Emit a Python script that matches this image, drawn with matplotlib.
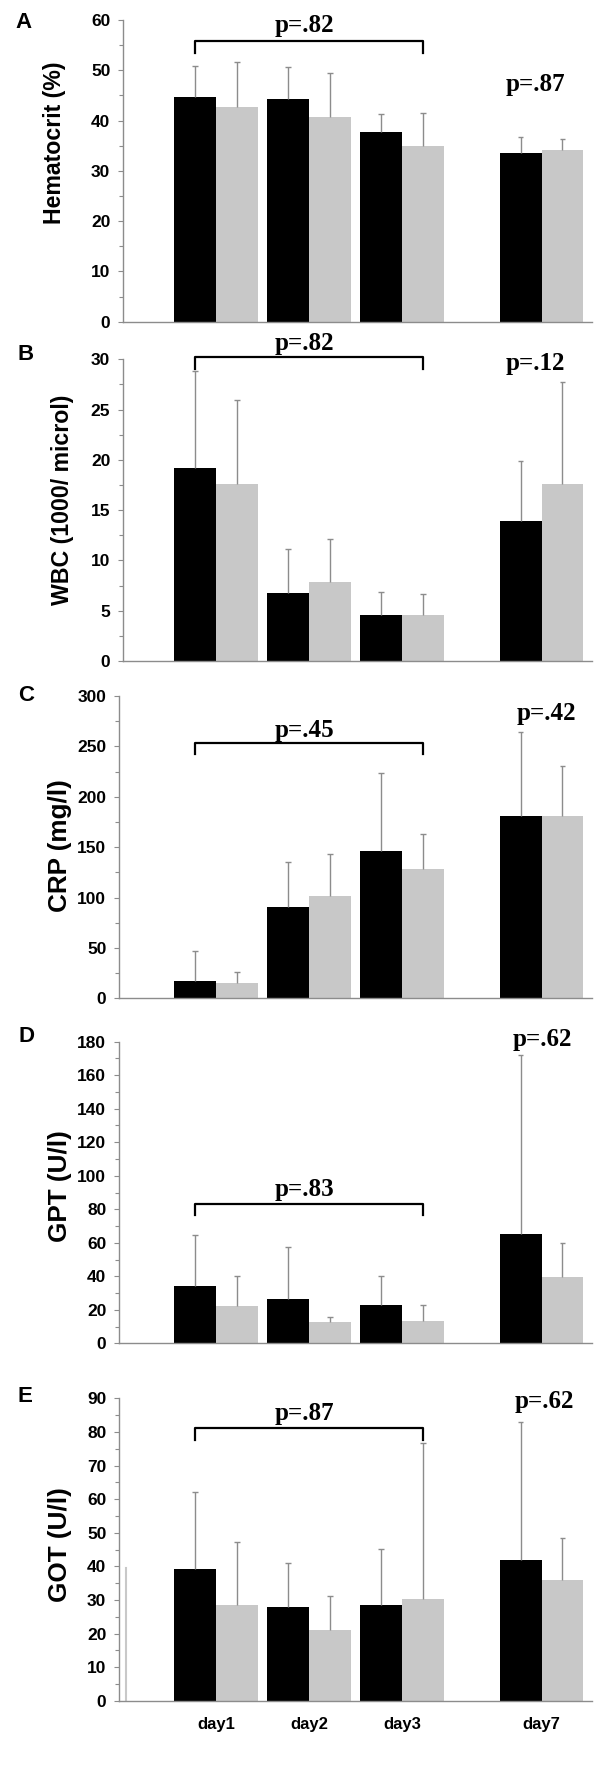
import numpy as np
import matplotlib.pyplot as plt
from matplotlib.ticker import MultipleLocator

# group positions and labels (day7 set apart)
days = ["day1", "day2", "day3", "day7"]
xpos = [1, 2, 3, 4.5]

# means and upper SD for the two groups (black / grey)
hct_black = [44.6, 44.2, 37.7, 33.6]
hct_black_sd = [6.3, 6.5, 3.6, 3.1]
hct_grey = [42.6, 40.8, 34.9, 34.2]
hct_grey_sd = [9.0, 8.6, 6.7, 2.1]

wbc_black = [19.2, 6.8, 4.6, 13.9]
wbc_black_sd = [9.6, 4.3, 2.3, 6.0]
wbc_grey = [17.6, 7.9, 4.6, 17.6]
wbc_grey_sd = [8.4, 4.2, 2.1, 10.1]

crp_black = [17.2, 90.3, 146.5, 181.0]
crp_black_sd = [30.1, 45.0, 77.5, 83.6]
crp_grey = [15.5, 101.6, 128.0, 181.0]
crp_grey_sd = [10.3, 41.3, 35.0, 50.0]

gpt_black = [34.2, 26.6, 22.9, 65.2]
gpt_black_sd = [30.6, 30.7, 17.5, 106.8]
gpt_grey = [22.1, 12.5, 13.5, 39.6]
gpt_grey_sd = [18.3, 3.4, 9.2, 20.4]

got_black = [39.2, 28.0, 28.5, 42.0]
got_black_sd = [22.8, 12.9, 16.6, 41.0]
got_grey = [28.5, 20.9, 30.3, 35.9]
got_grey_sd = [18.6, 10.2, 46.3, 12.5]

letters = ["A", "B", "C", "D", "E"]
ylabels = ["Hematocrit (%)", "WBC (1000/ microl)", "CRP (mg/l)", "GPT (U/l)", "GOT (U/l)"]
ylabel_size = [16.7, 16.7, 18.8, 18.8, 18.8]
ymax = [60, 30, 300, 180, 90]
ystep = [10, 5, 50, 20, 10]
p_bracket = ["p=.82", "p=.82", "p=.45", "p=.83", "p=.87"]
p_day7 = ["p=.87", "p=.12", "p=.42", "p=.62", "p=.62"]

# text / bracket placement in data units
bracket_y = [55.8, 30.2, 253, 82.9, 81.2]
bracket_tick = [53.5, 29.0, 242, 76.5, 77.6]
ptext_y = [59.0, 31.6, 266, 91.5, 85.6]
p7_xy = [(4.43, 47.1), (4.43, 29.6), (4.55, 282.8), (4.51, 181.4), (4.53, 88.9)]

# axes placement in pixels and label centres
W, H = 600, 1769
axes_px = [(20, 321.7), (359.3, 661), (696, 998.3), (1041.7, 1343.3), (1398.3, 1700.7)]
axes_left = [123, 123, 119, 119, 119]
axes_right = 592
day1_px, pitch_px = 216, 93
ylab_xy = [(54, 143), (62, 500), (60, 846), (60, 1186), (60, 1545)]
letter_xy = [(23, 22), (26, 355), (26, 695), (26, 1037), (25, 1397)]

panels = [
    (hct_black, hct_black_sd, hct_grey, hct_grey_sd),
    (wbc_black, wbc_black_sd, wbc_grey, wbc_grey_sd),
    (crp_black, crp_black_sd, crp_grey, crp_grey_sd),
    (gpt_black, gpt_black_sd, gpt_grey, gpt_grey_sd),
    (got_black, got_black_sd, got_grey, got_grey_sd),
]

sans = ["Liberation Sans", "DejaVu Sans"]
serif = ["Liberation Serif", "DejaVu Serif"]
axis_grey = "#8c8c8c"
bar_grey = "#c8c8c8"
w = 0.45
cap = 0.028


def up_errors(ax, xs, means, sds):
    tops = np.array(means) + np.array(sds)
    ax.vlines(xs, means, tops, color=axis_grey, lw=1, zorder=3)
    ax.hlines(tops, xs - cap, xs + cap, color=axis_grey, lw=1, zorder=3)


fig = plt.figure(figsize=(W / 100, H / 100), dpi=100)

for i, (b, bsd, g, gsd) in enumerate(panels):
    top, bot = axes_px[i]
    left = axes_left[i]
    ax = fig.add_axes([left / W, 1 - bot / H, (axes_right - left) / W, (bot - top) / H])
    x = np.array(xpos)
    xb = x - w / 2
    xg = x + w / 2
    ax.bar(xb, b, w, color="black", zorder=2)
    ax.bar(xg, g, w, color=bar_grey, zorder=2)
    up_errors(ax, xb, b, bsd)
    up_errors(ax, xg, g, gsd)

    ax.set_xlim(1 + (left - day1_px) / pitch_px, 1 + (axes_right - day1_px) / pitch_px)
    ax.set_ylim(0, ymax[i])
    ax.yaxis.set_major_locator(MultipleLocator(ystep[i]))
    ax.yaxis.set_minor_locator(MultipleLocator(ystep[i] / 2))
    for s in ["top", "right"]:
        ax.spines[s].set_visible(False)
    for s in ["left", "bottom"]:
        ax.spines[s].set_color(axis_grey)
        ax.spines[s].set_linewidth(1)
    ax.tick_params(axis="y", which="major", length=3.6, color=axis_grey, width=0.8, pad=5.5)
    ax.tick_params(axis="y", which="minor", length=2.8, color=axis_grey, width=0.8)
    for lab in ax.get_yticklabels():
        lab.set_fontfamily(sans)
        lab.set_fontweight("bold")
        lab.set_fontsize(12.5)

    if i == 4:
        ax.set_xticks(x)
        ax.set_xticklabels(days, fontfamily=sans, fontweight="bold", fontsize=12)
        ax.tick_params(axis="x", length=0, pad=12)
        # stray grey line next to the axis in the original
        ax.plot([0.032, 0.032], [0, 39.5], color=bar_grey, lw=1.5, zorder=1)
    else:
        ax.set_xticks([])

    # bracket over day1-day3
    x0, x1 = xb[0], xg[2]
    ax.plot([x0, x0, x1, x1], [bracket_tick[i], bracket_y[i], bracket_y[i], bracket_tick[i]],
            color="black", lw=1.6, clip_on=False, zorder=4)
    ax.text((x0 + x1) / 2 - 0.05, ptext_y[i], p_bracket[i], ha="center", va="center",
            fontfamily=serif, fontweight="bold", fontsize=18, clip_on=False)
    ax.text(p7_xy[i][0], p7_xy[i][1], p_day7[i], ha="center", va="center",
            fontfamily=serif, fontweight="bold", fontsize=18, clip_on=False)

    lx, ly = ylab_xy[i]
    fig.text(lx / W, 1 - ly / H, ylabels[i], rotation=90, ha="center", va="center",
             fontfamily=sans, fontweight="bold", fontsize=ylabel_size[i])
    lx, ly = letter_xy[i]
    fig.text(lx / W, 1 - ly / H, letters[i], ha="center", va="center",
             fontfamily=sans, fontweight="bold", fontsize=16)

fig.savefig("out.png", dpi=100)
